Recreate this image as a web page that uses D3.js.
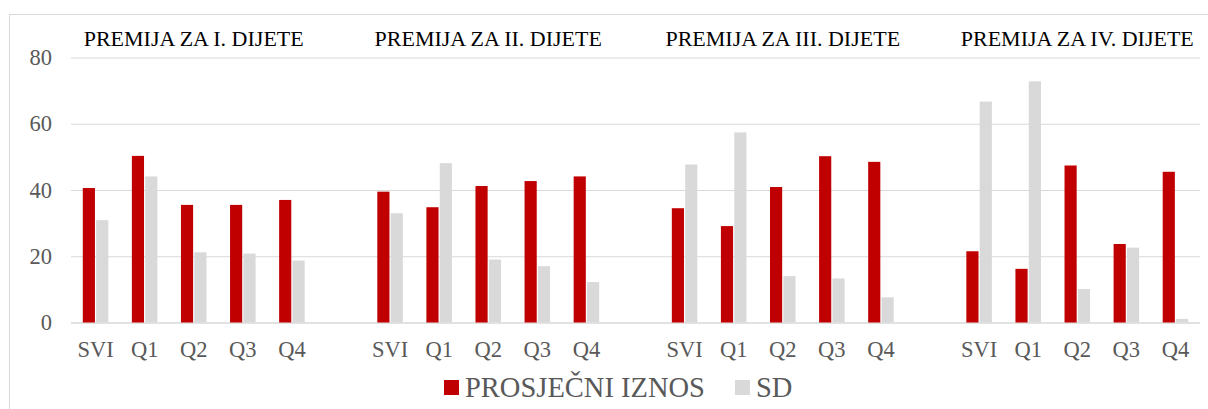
<!DOCTYPE html>
<html>
<head>
<meta charset="utf-8">
<script src="https://cdn.jsdelivr.net/npm/d3@7"></script>
<style>
  html, body { margin: 0; padding: 0; background: #fff; }
  svg { display: block; }
</style>
</head>
<body>
<svg id="chart" width="1208" height="409"></svg>
<script>
// Panel headings (one per child order) and the quarter categories inside each panel
const groups = ["PREMIJA ZA I. DIJETE", "PREMIJA ZA II. DIJETE", "PREMIJA ZA III. DIJETE", "PREMIJA ZA IV. DIJETE"];
const quarters = ["SVI", "Q1", "Q2", "Q3", "Q4"];

// Average amount per panel (SVI, Q1..Q4)
const prosjekI   = [40.6, 50.3, 35.5, 35.5, 37.0];
const prosjekII  = [39.5, 34.8, 41.2, 42.7, 44.1];
const prosjekIII = [34.5, 29.1, 40.9, 50.2, 48.5];
const prosjekIV  = [21.5, 16.2, 47.4, 23.7, 45.5];

// Standard deviation per panel (SVI, Q1..Q4)
const sdI   = [30.9, 44.1, 21.2, 20.8, 18.7];
const sdII  = [33.0, 48.1, 19.0, 17.0, 12.2];
const sdIII = [47.7, 57.4, 14.0, 13.3, 7.6];
const sdIV  = [66.7, 72.8, 10.1, 22.6, 1.1];

const seriesNames = ["PROSJEČNI IZNOS", "SD"];
const yTicks = [0, 20, 40, 60, 80];

const prosjek = [prosjekI, prosjekII, prosjekIII, prosjekIV];
const sd = [sdI, sdII, sdIII, sdIV];

// Flatten into one category list with an empty slot between panels
const cats = [];
groups.forEach((g, gi) => {
  quarters.forEach((q, qi) => {
    cats.push({ key: gi + "-" + qi, label: q, group: gi, values: [prosjek[gi][qi], sd[gi][qi]] });
  });
  if (gi < groups.length - 1) cats.push({ key: "gap-" + gi, label: "", group: gi, values: null });
});

const colors = ["#C00000", "#D9D9D9"];
const textGray = "#595959";
const FONT = "Liberation Serif";
const TICK_SIZE = 22.5;

const svg = d3.select("#chart");

// Outer chart frame
svg.append("rect")
  .attr("x", 9.5).attr("y", 14.5)
  .attr("width", 1300).attr("height", 500)
  .attr("fill", "none").attr("stroke", "#D9D9D9").attr("stroke-width", 1);

const plot = { left: 71, right: 1200, top: 57.5, bottom: 322.5 };

const x = d3.scaleBand()
  .domain(cats.map(d => d.key))
  .range([plot.left, plot.right])
  .paddingInner(0).paddingOuter(0);

const y = d3.scaleLinear()
  .domain([0, 80])
  .range([plot.bottom, plot.top]);

const xs = d3.scaleBand()
  .domain([0, 1])
  .range([x.bandwidth() * 0.24, x.bandwidth() * 0.76])
  .paddingInner(0.09);

// Gridlines and value labels
const yAxis = d3.axisLeft(y)
  .tickValues(yTicks)
  .tickSize(-(plot.right - plot.left))
  .tickPadding(19)
  .tickFormat(d3.format("d"));

const gy = svg.append("g")
  .attr("transform", `translate(${plot.left},0)`)
  .call(yAxis)
  .attr("font-family", FONT)
  .attr("font-size", TICK_SIZE);
gy.select(".domain").remove();
gy.selectAll(".tick line")
  .attr("stroke", "#D9D9D9")
  .attr("stroke-width", d => d === 0 ? 1.6 : 1.1);
gy.selectAll(".tick text")
  .attr("fill", textGray);

// Bars
const catG = svg.append("g").selectAll("g")
  .data(cats.filter(d => d.values))
  .join("g")
  .attr("transform", d => `translate(${x(d.key)},0)`);

catG.selectAll("rect")
  .data(d => d.values.map((v, i) => ({ v, i })))
  .join("rect")
  .attr("x", d => xs(d.i))
  .attr("width", xs.bandwidth())
  .attr("y", d => y(d.v))
  .attr("height", d => y(0) - y(d.v))
  .attr("fill", d => colors[d.i]);

// Category labels
const xAxis = d3.axisBottom(x)
  .tickSize(0)
  .tickPadding(19)
  .tickFormat(k => cats.find(c => c.key === k).label);

const gx = svg.append("g")
  .attr("transform", `translate(0,${plot.bottom})`)
  .call(xAxis)
  .attr("font-family", FONT)
  .attr("font-size", TICK_SIZE);
gx.select(".domain").remove();
gx.selectAll(".tick text")
  .attr("fill", textGray);

// Panel headings centred over each group of five
svg.append("g").selectAll("text")
  .data(groups)
  .join("text")
  .attr("x", (g, gi) => x(gi + "-2") + x.bandwidth() / 2)
  .attr("y", 46)
  .attr("text-anchor", "middle")
  .attr("fill", "#000")
  .attr("font-family", FONT)
  .attr("font-size", 22)
  .text(d => d);

// Legend
const legendItems = [
  { name: seriesNames[0], color: colors[0], x: 444 },
  { name: seriesNames[1], color: colors[1], x: 735 }
];
const legend = svg.append("g");
legend.selectAll("rect")
  .data(legendItems)
  .join("rect")
  .attr("x", d => d.x).attr("y", 380)
  .attr("width", 15).attr("height", 15)
  .attr("fill", d => d.color);
legend.selectAll("text")
  .data(legendItems)
  .join("text")
  .attr("x", d => d.x + 21)
  .attr("y", 396.5)
  .attr("fill", textGray)
  .attr("font-family", FONT)
  .attr("font-size", 28.5)
  .text(d => d.name);
</script>
</body>
</html>
